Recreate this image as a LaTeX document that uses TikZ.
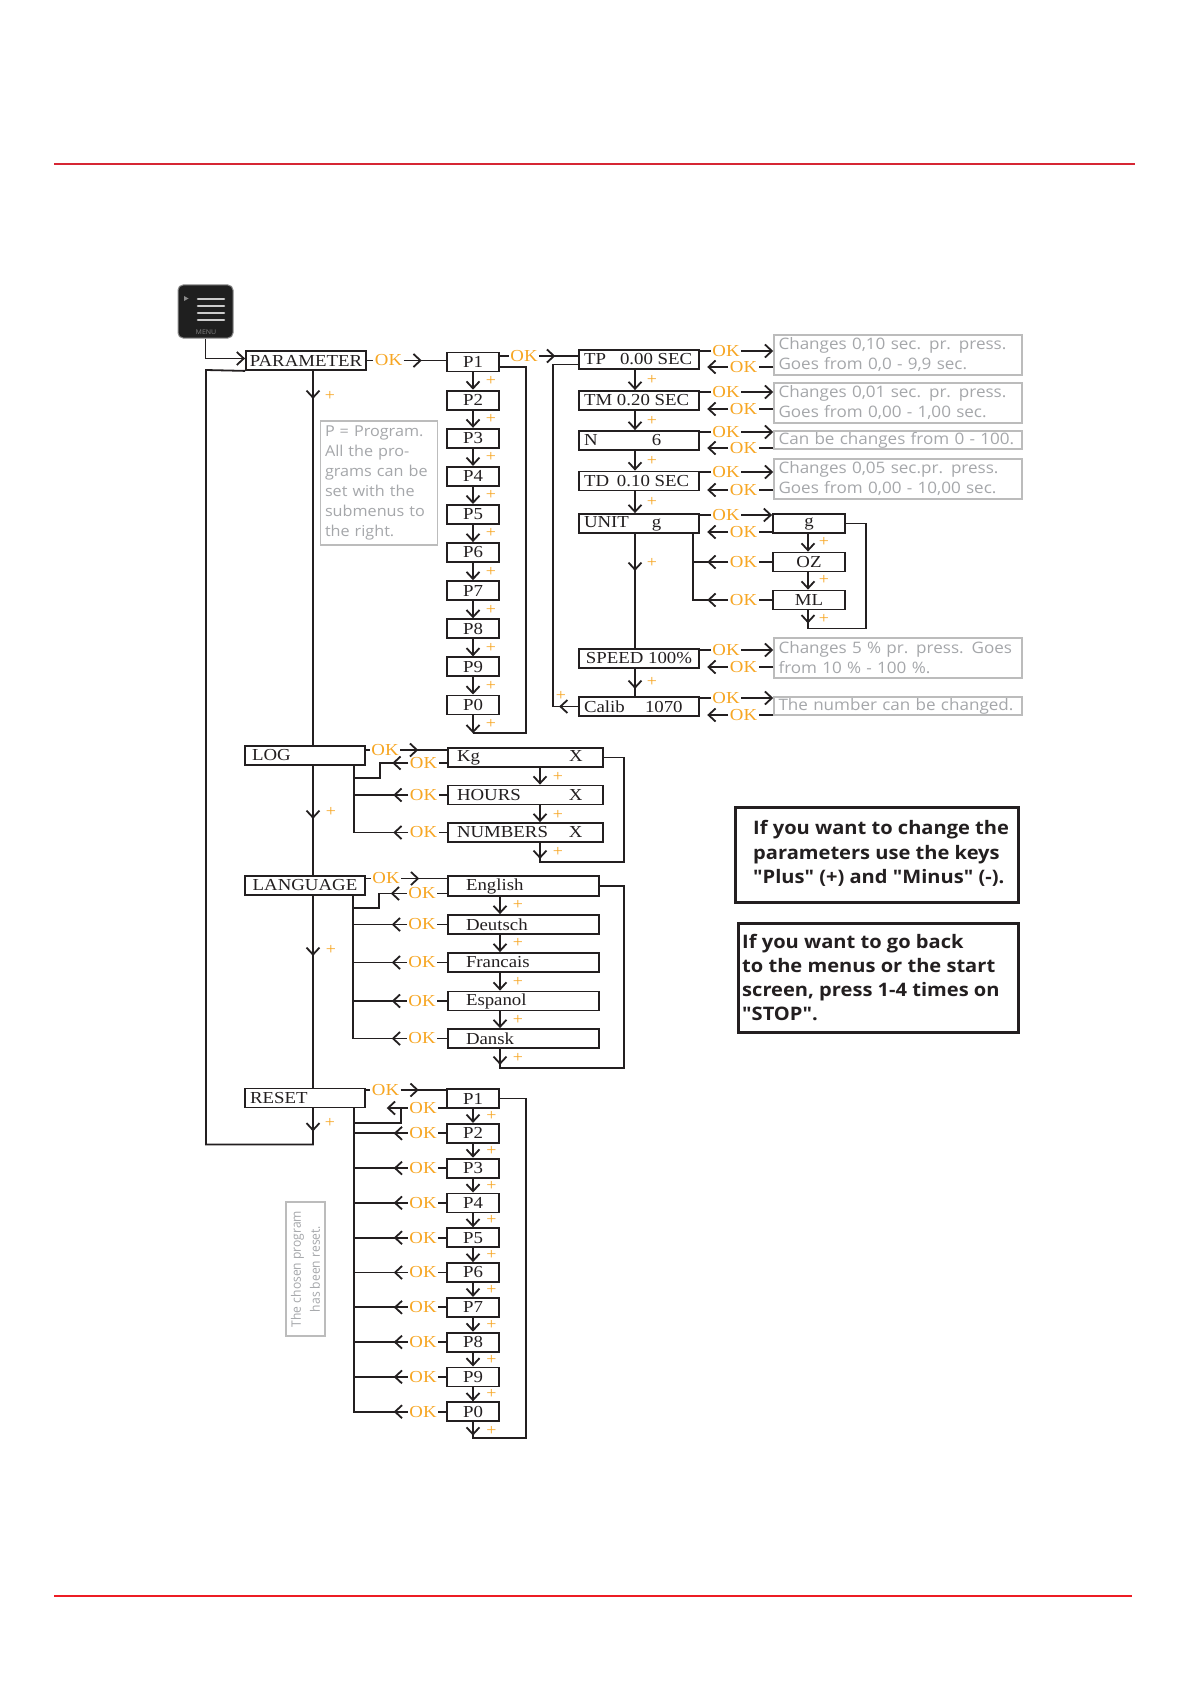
\documentclass[tikz,border=0pt]{standalone}
\usepackage{fontspec}
\setmainfont{Liberation Serif}
\newfontfamily\bxf{Liberation Serif}[FakeStretch=1.12]
\newfontfamily\gsf{Open Sans}[FakeStretch=1.08]
\newfontfamily\bsf{Open Sans}[FakeStretch=1.08]
\newfontfamily\rsf{Open Sans}[FakeStretch=0.93]
\usetikzlibrary{arrows.meta,calc}
\definecolor{lc}{RGB}{35,31,32}
\definecolor{okc}{RGB}{247,166,35}
\definecolor{gline}{RGB}{188,188,188}
\definecolor{gtext}{RGB}{165,167,170}
\definecolor{redl}{RGB}{214,38,52}
\definecolor{redm}{RGB}{237,28,36}
\newcommand\twot[4]{\hbox to #1pt{\rlap{#2}\hskip #3pt #4\hfil}}
\tikzset{
  ln/.style={draw=lc, line width=1.8pt},
  arw/.style={-{Straight Barb[length=7pt,width=13pt]}},
  bx/.style={draw=lc, line width=1.8pt, minimum height=19pt, inner sep=0pt, text=lc, font={\bxf\fontsize{16.8}{18}\selectfont}},
  ok/.style={text=okc, inner xsep=1.5pt, inner ysep=0pt, font={\bxf\fontsize{16.8}{18}\selectfont}},
  pl/.style={text=okc, inner sep=0pt, font={\bxf\fontsize{16}{18}\selectfont}},
  ibox/.style={draw=gline, line width=1.5pt, text=gtext, font={\gsf\fontsize{15.8}{20}\selectfont}, inner xsep=4.5pt, inner ysep=0pt, align=left},
  menubox/.style={fill=black!88, draw=black!45, line width=1pt, rounded corners=5pt},
  bigbox/.style={draw=lc, line width=3pt},
  bigtxt/.style={anchor=west, align=left, inner sep=0pt, text=lc, font={\bsf\bfseries\fontsize{18.6}{24.3}\selectfont}}
}
\newcommand\okpair[5]{%
  \node[ok] (ou#5) at (726,#3) {OK};
  \draw[ln] (#1.east |- ou#5) -- (ou#5.west);
  \draw[ln,arw] (ou#5.east) -- (#2.west |- ou#5);
  \node[ok] (od#5) at (743.5,#4) {OK};
  \draw[ln] (#2.west |- od#5) -- (od#5.east);
  \draw[ln,arw] (od#5.west) -- ++(-21,0);
}
\begin{document}
\begin{tikzpicture}[x=1pt,y=-1pt]
\useasboundingbox (0,0) rectangle (1192,1685);
\fill[white] (0,0) rectangle (1192,1685);
% red rules
\draw[redl, line width=2pt] (54,164.5) -- (1135,164.5);
\draw[redm, line width=2pt] (54,1596) -- (1132,1596);

% menu icon
\node[menubox, minimum width=55pt, minimum height=53pt] (menu) at (205.5,311.5) {};
\foreach \yy in {299,306,313,320}{
  \draw[line width=2.6pt, black!20, line cap=round] (198,\yy) -- (224,\yy);
}
\fill[black!45] (184,296) -- (188.5,298.5) -- (184,301) -- cycle;
\node[text=black!50, inner sep=0pt, font={\gsf\fontsize{6.5}{6.5}\selectfont}] (menutxt) at (206,332) {MENU};

% main column
\node[bx, minimum width=120pt] (par) at (306,360.5) {PARAMETER};
\node[bx, minimum width=120pt] (log) at (305,755.5) {\twot{106}{LOG}{0}{}};
\node[bx, minimum width=120pt] (lang) at (305,885.5) {LANGUAGE};
\node[bx, minimum width=120pt] (reset) at (305,1098) {\twot{110}{RESET}{0}{}};
\coordinate (mx) at (313,0);

\draw[ln,arw] (menu.south) |- ([yshift=2pt]par.west);

\draw[ln] (par.south -| mx) -- (log.north -| mx);
\draw[ln,arw] (par.south -| mx) -- ++(0,28);
\node[pl] (plA) at (330,396) {+};
\draw[ln] (log.south -| mx) -- (lang.north -| mx);
\draw[ln,arw] (log.south -| mx) -- ++(0,53);
\node[pl] (plB) at (331,812) {+};
\draw[ln] (lang.south -| mx) -- (reset.north -| mx);
\draw[ln,arw] (lang.south -| mx) -- ++(0,60);
\node[pl] (plC) at (331,950) {+};
\draw[ln,arw] (reset.south -| mx) -- ++(0,23);
\node[pl] (plD) at (330,1123) {+};
\draw[ln] (reset.south -| mx) -- ++(0,36) -| (206,370) -- (par.south west);

% note P = Program
\node[ibox, font={\gsf\fontsize{15}{20}\selectfont}, minimum width=116pt, minimum height=124pt, text width=108pt] (pnote) at (379,483)
  {P = Program.\\All the pro-\\grams can be\\set with the\\submenus to\\the right.};

% PARAMETER -> P column
\node[ok] (ok0) at (388.5,360.5) {OK};
\foreach \i/\l in {1/P1,2/P2,3/P3,4/P4,5/P5,6/P6,7/P7,8/P8,9/P9,10/P0}{
  \node[bx, minimum width=52pt] (p\i) at (473,{362+38.1*(\i-1)}) {\l};
}
\draw[ln] (par.east |- ok0) -- (ok0.west);
\draw[ln] (ok0.east) -- (p1.west |- ok0);
\draw[ln,arw] (ok0.east) -- ++(18,0);
\foreach \i in {1,...,9}{
  \pgfmathtruncatemacro\j{\i+1}
  \draw[ln,arw] (p\i.south) -- (p\j.north);
  \node[pl] (pp\i) at (491,{362+38.1*(\i-1)+19.05}) {+};
}
\draw[ln,arw] (p10.south) -- ++(0,18);
\node[pl] (pp10) at (491,724) {+};
\path (p10.south) ++(0,18) coordinate (pend);
\draw[ln] (pend) -| ([xshift=26pt,yshift=-5pt]p1.east) -- ([yshift=-5pt]p1.east);

% P1 -> TP column
\node[bx, minimum width=120pt] (tp) at (639,359.5) {\twot{110}{TP}{36}{0.00 SEC}};
\node[bx, minimum width=120pt] (tm) at (639,400.5) {\twot{110}{TM}{33}{0.20 SEC}};
\node[bx, minimum width=120pt] (nn) at (639,440.5) {\twot{110}{N}{68}{6}};
\node[bx, minimum width=120pt] (td) at (639,481) {\twot{110}{TD}{33}{0.10 SEC}};
\node[bx, minimum width=120pt] (unit) at (639,523.5) {\twot{110}{UNIT}{68}{g}};
\node[bx, minimum width=120pt] (speed) at (639,658.5) {SPEED 100\%};
\node[bx, minimum width=120pt] (calib) at (639,706.5) {\twot{110}{Calib}{61}{1070}};
\node[ok] (ok1) at (524,356) {OK};
\draw[ln] (p1.east |- ok1) -- (ok1.west);
\draw[ln] (ok1.east) -- (tp.west |- ok1);
\draw[ln,arw] (ok1.east) -- ++(16,0);
\coordinate (tx) at (635,0);
\draw[ln,arw] (tp.south -| tx) -- (tm.north -| tx);
\node[pl] (pt1) at (652,380) {+};
\draw[ln,arw] (tm.south -| tx) -- (nn.north -| tx);
\node[pl] (pt2) at (652,420.5) {+};
\draw[ln,arw] (nn.south -| tx) -- (td.north -| tx);
\node[pl] (pt3) at (652,460.5) {+};
\draw[ln,arw] (td.south -| tx) -- (unit.north -| tx);
\node[pl] (pt4) at (652,502) {+};
\draw[ln] (unit.south -| tx) -- (speed.north -| tx);
\draw[ln,arw] (unit.south -| tx) -- ++(0,37);
\node[pl] (pt5) at (652,563) {+};
\draw[ln] (speed.south -| tx) -- (calib.north -| tx);
\draw[ln,arw] (speed.south -| tx) -- ++(0,20);
\node[pl] (pt6) at (652,682) {+};
\draw[ln,arw] (calib.west) -- ++(-19,0);
\draw[ln] (calib.west) -- (553,706.5) |- ([yshift=-5pt]tp.west);
\node[pl] (pt7) at (561,696) {+};

% info boxes
\node[ibox, minimum width=248pt, minimum height=40pt, text width=239pt] (i1) at (898,355) {Changes 0,10 sec. pr. press.\\Goes from 0,0 - 9,9 sec.};
\node[ibox, minimum width=248pt, minimum height=40pt, text width=239pt] (i2) at (898,403) {Changes 0,01 sec. pr. press.\\Goes from 0,00 - 1,00 sec.};
\node[ibox, minimum width=248pt, minimum height=18pt, text width=239pt] (i3) at (898,440) {Can be changes from 0 - 100.};
\node[ibox, minimum width=248pt, minimum height=40pt, text width=239pt] (i4) at (898,479) {Changes 0,05 sec.pr. press.\\Goes from 0,00 - 10,00 sec.};
\node[ibox, minimum width=248pt, minimum height=40pt, text width=239pt] (i5) at (898,658) {Changes 5 \% pr. press. Goes\\from 10 \% - 100 \%.};
\node[ibox, minimum width=248pt, minimum height=18pt, text width=239pt] (i6) at (898,706) {The number can be changed.};

% unit submenu
\node[bx, minimum width=72pt] (gbox) at (809,523.5) {g};
\node[bx, minimum width=72pt] (oz) at (809,562) {OZ};
\node[bx, minimum width=72pt] (ml) at (809,600) {ML};

\okpair{tp}{i1}{351}{367}{a}
\okpair{tm}{i2}{392}{409}{b}
\okpair{nn}{i3}{432}{448}{c}
\okpair{td}{i4}{472}{490}{d}
\okpair{unit}{gbox}{515}{532}{e}
\okpair{speed}{i5}{650}{667}{f}
\okpair{calib}{i6}{698}{715}{g}

\coordinate (vx) at (693,0);
\node[ok] (ooz) at (743.5,562) {OK};
\node[ok] (oml) at (743.5,600) {OK};
\draw[ln] (oz.west) -- (ooz.east);
\draw[ln] (ml.west) -- (oml.east);
\draw[ln] (unit.south -| vx) |- (oml.west);
\draw[ln] (ooz.west) -- (ooz.west -| vx);
\draw[ln,arw] (ooz.west) -- ++(-21,0);
\draw[ln,arw] (oml.west) -- ++(-21,0);
\coordinate (ux) at (808,0);
\draw[ln,arw] (gbox.south -| ux) -- (oz.north -| ux);
\node[pl] (pu1) at (824,542) {+};
\draw[ln,arw] (oz.south -| ux) -- (ml.north -| ux);
\node[pl] (pu2) at (824,580) {+};
\draw[ln,arw] (ml.south -| ux) -- ++(0,13);
\node[pl] (pu3) at (824,619) {+};
\path (ml.south -| ux) ++(0,18) coordinate (mlend);
\draw[ln] (ml.south -| ux) -- (mlend) -| ([xshift=20pt]gbox.east) -- (gbox.east);

% LOG section
\node[bx, minimum width=155pt] (kg) at (525.5,757.5) {\twot{137}{Kg}{112}{X}};
\node[bx, minimum width=155pt] (hours) at (525.5,795) {\twot{137}{HOURS}{112}{X}};
\node[bx, minimum width=155pt] (numbers) at (525.5,832.5) {\twot{137}{NUMBERS}{112}{X}};
\node[ok] (olog) at (385,750) {OK};
\draw[ln] (log.east |- olog) -- (olog.west);
\draw[ln] (olog.east) -- (kg.west |- olog);
\draw[ln,arw] (olog.east) -- ++(18,0);
\coordinate (lx) at (354,0);
\node[ok] (okg) at (423.5,763) {OK};
\node[ok] (ohr) at (423.5,795) {OK};
\node[ok] (onum) at (423.5,832.5) {OK};
\draw[ln] (kg.west |- okg) -- (okg.east);
\draw[ln,arw] (okg.west) -- ++(-16,0);
\draw[ln] (okg.west) -| (380,778) -- (lx |- 0,778);
\draw[ln] (hours.west) -- (ohr.east);
\draw[ln] (ohr.west) -- (ohr.west -| lx);
\draw[ln,arw] (ohr.west) -- ++(-15,0);
\draw[ln] (numbers.west) -- (onum.east);
\draw[ln] (log.south -| lx) |- (onum.west);
\draw[ln,arw] (onum.west) -- ++(-15,0);
\coordinate (kx) at (540,0);
\draw[ln,arw] (kg.south -| kx) -- (hours.north -| kx);
\node[pl] (pk1) at (558,777) {+};
\draw[ln,arw] (hours.south -| kx) -- (numbers.north -| kx);
\node[pl] (pk2) at (558,814.5) {+};
\draw[ln,arw] (numbers.south -| kx) -- ++(0,16);
\node[pl] (pk3) at (558,852) {+};
\path (numbers.south -| kx) ++(0,19) coordinate (kend);
\draw[ln] (numbers.south -| kx) -- (kend) -| ([xshift=20pt]kg.east) -- (kg.east);

% LANGUAGE section
\node[bx, minimum width=151pt, minimum height=20pt] (eng) at (523.5,886) {\twot{115}{English}{0}{}};
\node[bx, minimum width=151pt, minimum height=19pt] (deu) at (523.5,924.5) {\twot{115}{Deutsch}{0}{}};
\node[bx, minimum width=151pt, minimum height=19pt] (fra) at (523.5,962.5) {\twot{115}{Francais}{0}{}};
\node[bx, minimum width=151pt, minimum height=19pt] (esp) at (523.5,1001) {\twot{115}{Espanol}{0}{}};
\node[bx, minimum width=151pt, minimum height=19pt] (dan) at (523.5,1038.5) {\twot{115}{Dansk}{0}{}};
\node[ok] (olang) at (386,878.5) {OK};
\draw[ln] (lang.east |- olang) -- (olang.west);
\draw[ln] (olang.east) -- (eng.west |- olang);
\draw[ln,arw] (olang.east) -- ++(18,0);
\coordinate (gx) at (353,0);
\node[ok] (oeng) at (422,893.5) {OK};
\draw[ln] (eng.west |- oeng) -- (oeng.east);
\draw[ln,arw] (oeng.west) -- ++(-16,0);
\draw[ln] (oeng.west) -| (379,908) -- (gx |- 0,908);
\foreach \nm/\yy in {deu/924.5,fra/962.5,esp/1001,dan/1038.5}{
  \node[ok] (o\nm) at (422,\yy) {OK};
  \draw[ln] (\nm.west) -- (o\nm.east);
  \draw[ln,arw] (o\nm.west) -- ++(-15,0);
}
\draw[ln] (lang.south -| gx) |- (odan.west);
\foreach \nm in {deu,fra,esp}{
  \draw[ln] (o\nm.west) -- (o\nm.west -| gx);
}
\coordinate (ex) at (500,0);
\draw[ln,arw] (eng.south -| ex) -- (deu.north -| ex);
\node[pl] (pg1) at (518,905) {+};
\draw[ln,arw] (deu.south -| ex) -- (fra.north -| ex);
\node[pl] (pg2) at (518,943) {+};
\draw[ln,arw] (fra.south -| ex) -- (esp.north -| ex);
\node[pl] (pg3) at (518,982) {+};
\draw[ln,arw] (esp.south -| ex) -- (dan.north -| ex);
\node[pl] (pg4) at (518,1020) {+};
\draw[ln,arw] (dan.south -| ex) -- ++(0,16);
\node[pl] (pg5) at (518,1058) {+};
\path (dan.south -| ex) ++(0,19) coordinate (gend);
\draw[ln] (dan.south -| ex) -- (gend) -| ([xshift=24pt]eng.east) -- (eng.east);

% RESET section
\foreach \i/\l in {1/P1,2/P2,3/P3,4/P4,5/P5,6/P6,7/P7,8/P8,9/P9,10/P0}{
  \node[bx, minimum width=52pt] (r\i) at (473,{1098.5+34.8*(\i-1)}) {\l};
}
\node[ok] (ores) at (385.5,1090) {OK};
\draw[ln] (reset.east |- ores) -- (ores.west);
\draw[ln] (ores.east) -- (r1.west |- ores);
\draw[ln,arw] (ores.east) -- ++(18,0);
\coordinate (rx) at (354,0);
\node[ok] (or1) at (423,1108) {OK};
\draw[ln] (r1.west |- or1) -- (or1.east);
\draw[ln,arw] (or1.west) -- ++(-21,0);
\draw[ln] (or1.west) -| (401,1123) -- (rx |- 0,1123);
\foreach \i in {2,...,10}{
  \node[ok] (or\i) at (423,{1098.5+34.8*(\i-1)}) {OK};
  \draw[ln] (r\i.west) -- (or\i.east);
  \draw[ln,arw] (or\i.west) -- ++(-14,0);
}
\foreach \i in {2,...,9}{
  \draw[ln] (or\i.west) -- (or\i.west -| rx);
}
\draw[ln] (reset.south -| rx) |- (or10.west);
\foreach \i in {1,...,9}{
  \pgfmathtruncatemacro\j{\i+1}
  \draw[ln,arw] (r\i.south) -- (r\j.north);
  \node[pl] (rp\i) at (491.5,{1098.5+34.8*(\i-1)+17.4}) {+};
}
\draw[ln,arw] (r10.south) -- ++(0,13.5);
\node[pl] (rp10) at (491.5,1431) {+};
\path (r10.south) ++(0,15.5) coordinate (rend);
\draw[ln] (r10.south) -- (rend) -| ([xshift=26pt]r1.east) -- (r1.east);

% rotated note
\node[draw=gline, line width=1.5pt, rotate=90, minimum width=134pt, minimum height=39pt, inner sep=0pt, align=center, text=gtext, font={\rsf\fontsize{13}{19}\selectfont}] (rnote) at (305.5,1269) {The chosen program\\has been reset.};

% right text boxes
\node[bigbox, minimum width=283pt, minimum height=95pt] (boxA) at (876.5,854.5) {};
\node[bigtxt] (txtA) at (753,853.5) {If you want to change the\\parameters use the keys\\"Plus" (+) and "Minus" (-).};
\node[bigbox, minimum width=280pt, minimum height=109pt] (boxB) at (878,977.5) {};
\node[bigtxt] (txtB) at (742,977.5) {If you want to go back\\to the menus or the start\\screen, press 1-4 times on\\"STOP".};
\end{tikzpicture}
\end{document}
